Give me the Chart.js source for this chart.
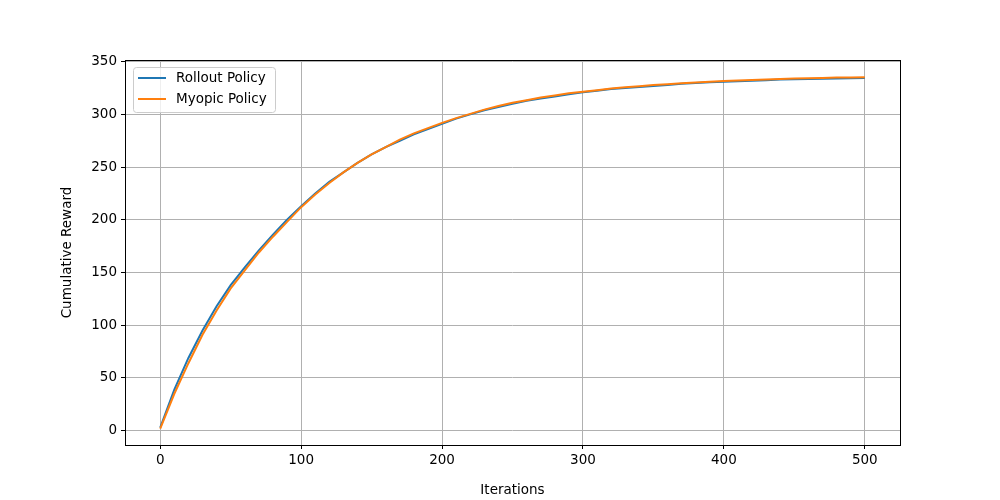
<!DOCTYPE html>
<html>
<head>
<meta charset="utf-8">
<script src="https://cdn.jsdelivr.net/npm/chart.js@4.4.1/dist/chart.umd.min.js"></script>
<style>
  html, body { margin: 0; padding: 0; background: #fff; }
  #wrap { width: 1000px; height: 500px; }
</style>
</head>
<body>
<div id="wrap"><canvas id="myChart" width="1000" height="500"></canvas></div>
<script>
// values, one point every 10 iterations
const iterations = [0,10,20,30,40,50,60,70,80,90,100,110,120,130,140,150,160,170,180,190,200,
  210,220,230,240,250,260,270,280,290,300,310,320,330,340,350,360,370,380,390,400,
  410,420,430,440,450,460,470,480,490,500];
const rollout = [3,39,69,95,118,138,155,171,186,200,213,225,236,245,254,262,269,275,281,286,291,
  296,300,304,307,310,313,315,317,319,321,322.5,324,325,326,327,328,329,329.8,330.5,331,
  331.5,332,332.5,333,333.3,333.6,333.9,334.1,334.3,334.5];
const myopic = [2,35,64,91,114,135,152,169,184,198,212,224,235,245,254,262,269,276,282,287,292,
  296.5,300.5,304.5,308,311,313.5,316,318,320,321.5,323,324.5,325.7,326.8,327.8,328.7,329.5,330.3,331,331.6,
  332.2,332.7,333.2,333.6,334,334.3,334.6,334.9,335.1,335.3];
const seriesNames = ['Rollout Policy', 'Myopic Policy'];
const seriesColors = ['#1f77b4', '#ff7f0e'];
const xTicks = [0, 100, 200, 300, 400, 500];
const yTicks = [0, 50, 100, 150, 200, 250, 300, 350];

const FONT = 'DejaVu Sans';
const FS = 13.5;

// black frame round the plot area, like matplotlib spines
const frame = {
  id: 'frame',
  afterDraw(chart) {
    const a = chart.chartArea, c = chart.ctx;
    c.save();
    c.strokeStyle = '#000';
    c.lineWidth = 1;
    c.strokeRect(Math.round(a.left) + 0.5, Math.round(a.top) + 0.5,
      Math.round(a.right - a.left), Math.round(a.bottom - a.top));
    c.restore();
  }
};

// legend inside the axes, upper left
const innerLegend = {
  id: 'innerLegend',
  afterDraw(chart) {
    const a = chart.chartArea, c = chart.ctx;
    const x = a.left + 8, y = a.top + 7, w = 142, h = 45, r = 3;
    c.save();
    c.fillStyle = 'rgba(255,255,255,0.8)';
    c.strokeStyle = '#cccccc';
    c.lineWidth = 1;
    c.beginPath();
    c.roundRect(x + 0.5, y + 0.5, w, h, r);
    c.fill();
    c.stroke();
    c.font = FS + 'px "' + FONT + '"';
    c.textBaseline = 'middle';
    c.fillStyle = '#000';
    seriesNames.forEach(function (name, i) {
      const ly = y + 11 + i * 21;
      c.strokeStyle = seriesColors[i];
      c.lineWidth = 2;
      c.beginPath();
      c.moveTo(x + 5, ly);
      c.lineTo(x + 33, ly);
      c.stroke();
      c.fillText(name, x + 43, ly);
    });
    c.restore();
  }
};

function toPoints(ys) {
  return iterations.map(function (x, i) { return { x: x, y: ys[i] }; });
}

const ctx = document.getElementById('myChart');
new Chart(ctx, {
  type: 'line',
  data: {
    datasets: [
      { label: seriesNames[0], data: toPoints(rollout), borderColor: seriesColors[0],
        borderWidth: 2, pointRadius: 0, tension: 0, order: 2 },
      { label: seriesNames[1], data: toPoints(myopic), borderColor: seriesColors[1],
        borderWidth: 2, pointRadius: 0, tension: 0, order: 1 }
    ]
  },
  options: {
    responsive: false,
    animation: false,
    layout: { padding: { left: 0, top: 60, right: 100, bottom: 0 } },
    plugins: { legend: { display: false }, tooltip: { enabled: false } },
    scales: {
      x: {
        type: 'linear',
        min: -25, max: 525,
        afterBuildTicks: function (s) { s.ticks = xTicks.map(function (v) { return { value: v }; }); },
        afterFit: function (s) { s.height = 55; },
        grid: { color: '#b0b0b0', lineWidth: 1, tickLength: 4, tickColor: '#000' },
        border: { display: false },
        ticks: { color: '#000', font: { family: FONT, size: FS }, padding: 3, maxRotation: 0 },
        title: { display: true, text: 'Iterations', color: '#000',
          font: { family: FONT, size: FS }, padding: { top: 0, bottom: 1 } }
      },
      y: {
        min: -13.6, max: 351.6,
        afterBuildTicks: function (s) { s.ticks = yTicks.map(function (v) { return { value: v }; }); },
        afterFit: function (s) { s.width = 125; },
        grid: { color: '#b0b0b0', lineWidth: 1, tickLength: 4, tickColor: '#000' },
        border: { display: false },
        ticks: { color: '#000', font: { family: FONT, size: FS }, padding: 4 },
        title: { display: true, text: 'Cumulative Reward', color: '#000',
          font: { family: FONT, size: FS }, padding: { top: 59, bottom: 0 } }
      }
    }
  },
  plugins: [frame, innerLegend]
});
</script>
</body>
</html>
